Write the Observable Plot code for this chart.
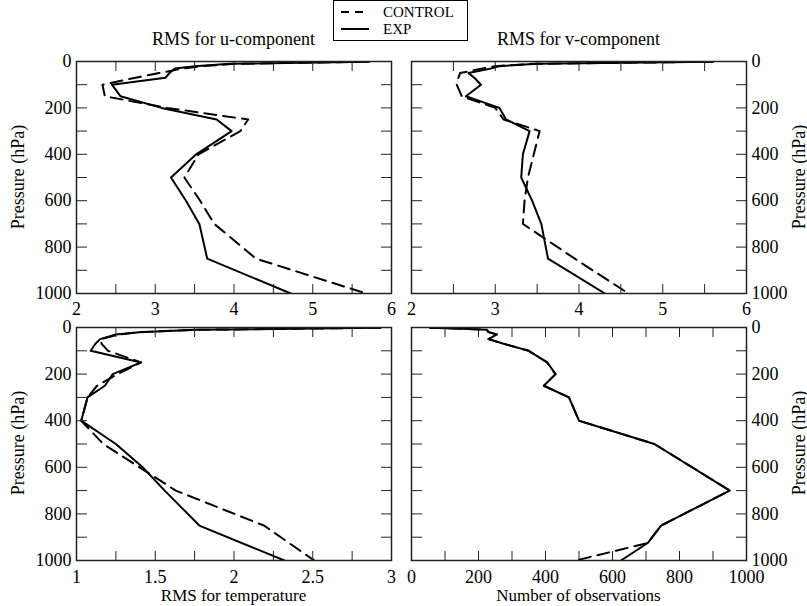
<!DOCTYPE html>
<html><head><meta charset="utf-8">
<script src="https://cdn.jsdelivr.net/npm/d3@7"></script>
<script src="https://cdn.jsdelivr.net/npm/@observablehq/plot@0.6"></script>
<style>
body{margin:0;background:#fff;}
#root{position:relative;width:807px;height:606px;overflow:hidden;font-family:"Liberation Serif","Times New Roman",serif;color:#000;background:#fff;}
#root svg{position:absolute;left:0;top:0;font-family:"Liberation Serif","Times New Roman",serif;}
#root svg.panel{font-size:18px;background:transparent;overflow:visible;}
</style></head><body><div id="root"></div>
<script>
// ---- data (pressure levels in hPa) ----
const levels = [1, 10, 20, 30, 50, 70, 100, 150, 200, 250, 300, 400, 500, 600, 700, 850, 1000];
const uExp  = [5.72, 3.95, 3.50, 3.25, 3.18, 3.13, 2.45, 2.56, 3.08, 3.78, 3.97, 3.52, 3.20, 3.39, 3.56, 3.66, 4.72];
const uCtl  = [5.70, 4.00, 3.60, 3.35, 3.05, 2.75, 2.33, 2.36, 3.15, 4.18, 4.08, 3.55, 3.37, 3.57, 3.75, 4.28, 5.68];
const vExp  = [5.60, 3.50, 3.05, 2.95, 2.68, 2.75, 2.83, 2.65, 3.05, 3.13, 3.41, 3.33, 3.31, 3.44, 3.55, 3.63, 4.31];
const vCtl  = [5.60, 3.45, 3.00, 2.85, 2.58, 2.56, 2.54, 2.60, 3.00, 3.10, 3.53, 3.46, 3.39, 3.35, 3.33, 3.95, 4.59];
const tExp  = [2.93, 1.76, 1.40, 1.25, 1.15, 1.12, 1.09, 1.41, 1.23, 1.18, 1.07, 1.03, 1.25, 1.42, 1.56, 1.78, 2.32];
const tCtl  = [2.93, 1.76, 1.40, 1.27, 1.15, 1.16, 1.20, 1.41, 1.26, 1.13, 1.07, 1.03, 1.17, 1.40, 1.63, 2.19, 2.51];
const obsLevels = [1, 5, 10, 20, 30, 50, 70, 100, 150, 200, 250, 300, 400, 500, 700, 850, 925, 1000];
const obsExp = [55, 150, 225, 230, 255, 230, 275, 350, 405, 430, 395, 470, 500, 725, 950, 745, 705, 625];
const obsCtl = [55, 150, 225, 230, 255, 230, 275, 350, 405, 430, 395, 470, 500, 725, 950, 745, 705, 490];
// ---- axis ticks ----
const pMajor = [0, 200, 400, 600, 800, 1000];
const pMinor = [100, 300, 500, 700, 900];
const rmsMajor = [2, 3, 4, 5, 6], rmsMinor = [2.5, 3.5, 4.5, 5.5];
const tMajor = [1, 1.5, 2, 2.5, 3], tMinor = [1.25, 1.75, 2.25, 2.75];
const obsMajor = [0, 200, 400, 600, 800, 1000], obsMinor = [100, 300, 500, 700, 900];
// ---- texts ----
const seriesNames = ["CONTROL", "EXP"];
const titles = ["RMS for u-component", "RMS for v-component"];
const xTitles = ["RMS for temperature", "Number of observations"];
const yTitle = "Pressure (hPa)";

const W = 807, H = 606;
const FONT = "'Liberation Serif', 'Times New Roman', serif";
const root = document.getElementById("root");

function panel({L, R, T, B, xDomain, xMajor, xMinor, yRight, lev, exp, levC, ctl, pad}) {
  const dExp = lev.map((p, i) => ({p, v: exp[i]}));
  const dCtl = levC.map((p, i) => ({p, v: ctl[i]}));
  const tkx = 9, tky = 11, col = "#222";
  const yA = yRight ? "right" : "left";
  const yB = yRight ? "left" : "right";
  const txtOpt = {fontSize: 18, fontFamily: FONT, fill: "#000"};
  const svg = Plot.plot({
    width: W, height: H,
    marginLeft: L, marginRight: W - R, marginTop: T, marginBottom: H - B,
    style: `background:transparent;overflow:visible;font-family:${FONT};font-size:18px;color:#000;`,
    x: {domain: xDomain},
    y: {domain: [0, 1000], reverse: true},
    marks: [
      Plot.line(dCtl, {x: "v", y: "p", stroke: "#000", strokeWidth: 2, strokeDasharray: "12,7", clip: true}),
      Plot.line(dExp, {x: "v", y: "p", stroke: "#000", strokeWidth: 2, clip: true}),
      Plot.axisX({anchor: "bottom", ticks: xMajor, tickSize: -tkx, tickPadding: tkx + pad, tickFormat: d => String(d), label: null, stroke: col, ...txtOpt}),
      Plot.axisX({anchor: "bottom", ticks: xMinor, tickSize: -tkx, fill: "none", label: null, stroke: col}),
      Plot.axisX({anchor: "top", ticks: xMajor, tickSize: -tkx, fill: "none", label: null, stroke: col}),
      Plot.axisX({anchor: "top", ticks: xMinor, tickSize: -tkx, fill: "none", label: null, stroke: col}),
      Plot.axisY({anchor: yA, ticks: pMajor, tickSize: -tky, tickPadding: tky + 5, tickFormat: d => String(d), label: null, stroke: col, ...txtOpt}),
      Plot.axisY({anchor: yA, ticks: pMinor, tickSize: -tky, fill: "none", label: null, stroke: col}),
      Plot.axisY({anchor: yB, ticks: pMajor, tickSize: -tky, fill: "none", label: null, stroke: col}),
      Plot.axisY({anchor: yB, ticks: pMinor, tickSize: -tky, fill: "none", label: null, stroke: col}),
      Plot.frame({stroke: col, strokeWidth: 1.5})
    ]
  });
  svg.classList.add("panel");
  svg.setAttribute("font-family", FONT);
  svg.setAttribute("font-size", 18);
  return svg;
}

const panels = [
  {L: 76, R: 391, T: 61, B: 293, xDomain: [2, 6], xMajor: rmsMajor, xMinor: rmsMinor, yRight: false, lev: levels, exp: uExp, levC: levels, ctl: uCtl, pad: 9},
  {L: 411, R: 746, T: 61, B: 293, xDomain: [2, 6], xMajor: rmsMajor, xMinor: rmsMinor, yRight: true, lev: levels, exp: vExp, levC: levels, ctl: vCtl, pad: 9},
  {L: 76, R: 391, T: 327, B: 560, xDomain: [1, 3], xMajor: tMajor, xMinor: tMinor, yRight: false, lev: levels, exp: tExp, levC: levels, ctl: tCtl, pad: 10},
  {L: 411, R: 746, T: 327, B: 560, xDomain: [0, 1000], xMajor: obsMajor, xMinor: obsMinor, yRight: true, lev: obsLevels, exp: obsExp, levC: obsLevels, ctl: obsCtl, pad: 10}
];
for (const p of panels) root.appendChild(panel(p));

// ---- overlay texts and legend ----
const ns = "http://www.w3.org/2000/svg";
const ov = document.createElementNS(ns, "svg");
ov.setAttribute("width", W); ov.setAttribute("height", H);
function txt(s, x, y, size, anchor, rot) {
  const t = document.createElementNS(ns, "text");
  t.textContent = s;
  t.setAttribute("font-size", size);
  t.setAttribute("font-family", FONT);
  t.setAttribute("text-anchor", anchor || "middle");
  t.setAttribute("fill", "#000");
  t.setAttribute("transform", `translate(${x},${y})` + (rot ? ` rotate(${rot})` : ""));
  ov.appendChild(t);
}
txt(titles[0], 233.5, 45, 18);
txt(titles[1], 578.5, 45, 18);
txt(xTitles[0], 233.5, 601, 17);
txt(xTitles[1], 578.5, 601, 17);
txt(yTitle, 24, 177, 18, "middle", -90);
txt(yTitle, 24, 443, 18, "middle", -90);
txt(yTitle, 805, 177, 18, "middle", -90);
txt(yTitle, 805, 443, 18, "middle", -90);
// legend
const box = document.createElementNS(ns, "rect");
box.setAttribute("x", 333.5); box.setAttribute("y", 0.5); box.setAttribute("width", 134); box.setAttribute("height", 40);
box.setAttribute("fill", "#fff"); box.setAttribute("stroke", "#000"); box.setAttribute("stroke-width", 1);
ov.appendChild(box);
[["8,6", 12], [null, 29]].forEach(([dash, y], i) => {
  const l = document.createElementNS(ns, "line");
  l.setAttribute("x1", 341); l.setAttribute("x2", 369); l.setAttribute("y1", y); l.setAttribute("y2", y);
  l.setAttribute("stroke", "#000"); l.setAttribute("stroke-width", 2);
  if (dash) l.setAttribute("stroke-dasharray", dash);
  ov.appendChild(l);
  txt(seriesNames[i], 383, y + 5, 15, "start");
});
root.appendChild(ov);
</script>
</body></html>
